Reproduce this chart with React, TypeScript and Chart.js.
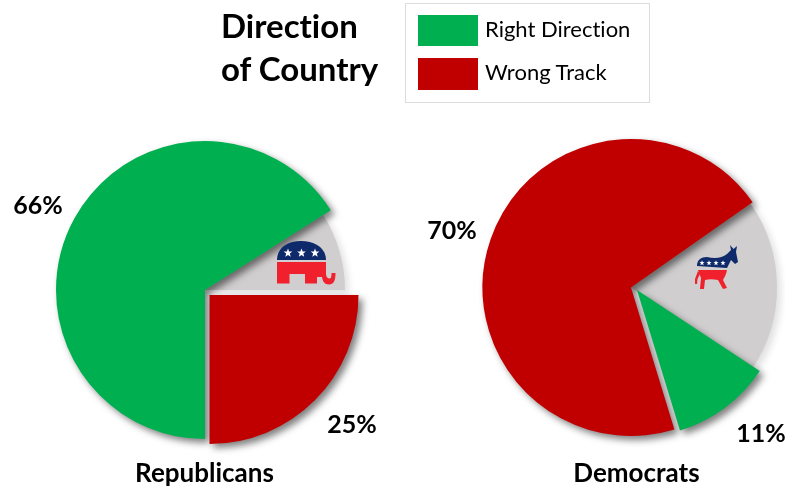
import React, { useEffect, useRef } from "react";
import { Chart, registerables } from "chart.js";

Chart.register(...registerables);

const WIDTH = 785;
const HEIGHT = 486;
const FONT = "Lato, 'Open Sans', sans-serif";

const GREEN = "#00B050";
const RED = "#C00000";
const GRAY = "#D0CECE";

// Slices run clockwise from each pie's starting angle.
const republicanCategories = ["Right Direction", "Other", "Wrong Track"];
const republicanValues = [66, 9, 25];
const republicanColors = [GREEN, GRAY, RED];
const republicanRadii = [149, 140, 149];
const republicanShifts = [[0, 0], [0, 0], [4.5, 5]];
const republicanPaintOrder = [1, 0, 2];
const republicanLabelAt = [[38, 206], null, [352, 425]];

const democratCategories = ["Right Direction", "Wrong Track", "Other"];
const democratValues = [11, 70, 19];
const democratColors = [GREEN, RED, GRAY];
const democratRadii = [147, 148.5, 146];
const democratShifts = [[6, 2.5], [0, 0], [0, 0]];
const democratPaintOrder = [2, 1, 0];
const democratLabelAt = [[761, 434], [452, 231], null];

type PieProps = {
  categories: string[];
  values: number[];
  colors: string[];
  radii: number[];
  shifts: number[][];
  paintOrder: number[];
  labelAt: (number[] | null)[];
  rotation: number;
  padding: { left: number; right: number; top: number; bottom: number };
};

// Gives each slice its own radius and pull-out, paints the slices in a chosen
// order with a soft drop shadow, and writes the percentages beside the pie.
const pieStyling = (p: PieProps) => ({
  id: "pieStyling",
  afterDatasetsUpdate(chart: Chart) {
    const arcs = chart.getDatasetMeta(0).data as any[];
    arcs.forEach((arc, i) => {
      arc.outerRadius = p.radii[i];
      arc.x += p.shifts[i][0];
      arc.y += p.shifts[i][1];
    });
  },
  beforeDatasetDraw(chart: Chart) {
    const ctx = chart.ctx;
    const arcs = chart.getDatasetMeta(0).data as any[];
    ctx.save();
    ctx.shadowBlur = 7;
    ctx.shadowOffsetX = 4;
    ctx.shadowOffsetY = 4;
    p.paintOrder.forEach((i) => {
      ctx.shadowColor = p.colors[i] === GRAY ? "rgba(0,0,0,0.12)" : "rgba(0,0,0,0.5)";
      arcs[i].draw(ctx, chart.chartArea);
    });
    ctx.restore();
    return false;
  },
  afterDraw(chart: Chart) {
    const ctx = chart.ctx;
    ctx.save();
    ctx.font = `bold 25px ${FONT}`;
    ctx.fillStyle = "#000";
    ctx.textAlign = "center";
    ctx.textBaseline = "middle";
    p.labelAt.forEach((pos, i) => {
      if (pos) ctx.fillText(`${p.values[i]}%`, pos[0], pos[1]);
    });
    ctx.restore();
  },
});

function Pie(props: PieProps) {
  const ref = useRef<HTMLCanvasElement>(null);
  useEffect(() => {
    const chart = new Chart(ref.current!, {
      type: "pie",
      data: {
        labels: props.categories,
        datasets: [
          {
            data: props.values,
            backgroundColor: props.colors,
            borderWidth: 0,
          },
        ],
      },
      options: {
        responsive: false,
        animation: false,
        rotation: props.rotation,
        layout: { padding: props.padding },
        plugins: {
          legend: { display: false },
          tooltip: { enabled: false },
          title: { display: false },
        },
      },
      plugins: [pieStyling(props)],
    } as any);
    return () => chart.destroy();
  }, []);
  return (
    <canvas
      ref={ref}
      width={WIDTH}
      height={HEIGHT}
      style={{ position: "absolute", left: 0, top: 0, width: WIDTH, height: HEIGHT }}
    />
  );
}

const textAt = (
  left: number,
  top: number,
  size: number,
  weight: number,
  extra: React.CSSProperties = {}
): React.CSSProperties => ({
  position: "absolute",
  left,
  top,
  fontFamily: FONT,
  fontSize: size,
  fontWeight: weight,
  fontVariantLigatures: "none",
  lineHeight: 1,
  color: "#000",
  whiteSpace: "nowrap",
  ...extra,
});

function Star({ x, y, r }: { x: number; y: number; r: number }) {
  const pts: string[] = [];
  for (let i = 0; i < 10; i++) {
    const a = -Math.PI / 2 + (i * Math.PI) / 5;
    const d = i % 2 === 0 ? r : r * 0.42;
    pts.push(`${x + d * Math.cos(a)},${y + d * Math.sin(a)}`);
  }
  return <polygon points={pts.join(" ")} fill="#fff" />;
}

// Party emblems drawn on top of the gray slices.
function Emblems() {
  return (
    <svg
      width={WIDTH}
      height={HEIGHT}
      style={{ position: "absolute", left: 0, top: 0, pointerEvents: "none" }}
    >
      <g transform="translate(277,241)">
        <path d="M0 19 C0 7 10 0 24 0 C38 0 49 7 49 19 Z" fill="#0F2A6B" />
        <Star x={11} y={12} r={4.6} />
        <Star x={24.5} y={12} r={4.6} />
        <Star x={38} y={12} r={4.6} />
        <path
          d="M0 21 H49 V33 C49 36 51 37.5 52.5 37.5 C54 37.5 54.5 36 54.5 32 H58.5 C58.5 40 56.5 43.5 52 43.5 C47.5 43.5 45.5 40 45 36 H40 V42.5 H28 V33 H12.5 V42.5 H0 Z"
          fill="#F0202C"
        />
      </g>
      <g>
        <path
          d="M697 266 C697 260 701 257 707 257 C715 259 722 258 727 254 L731 250 L730 245 L733.5 249 L737 246 L736 252 L738 262 L735 264 L731 260 L727 268 Z"
          fill="#0F2A6B"
        />
        <Star x={702} y={263} r={2.7} />
        <Star x={709} y={263} r={2.7} />
        <Star x={716} y={263} r={2.7} />
        <Star x={723} y={263} r={2.7} />
        <path
          d="M698 270 H727 C726 275 724 278 723 280 L727 288 L723 289 L718 280 C713 279 709 279 705 280 L704 289 H700 L701 278 Z"
          fill="#F0202C"
        />
        <path d="M698 271 L695 279 L695 284 L697 284 L697.5 279 L700 274 Z" fill="#F0202C" />
      </g>
    </svg>
  );
}

export default function App() {
  return (
    <div
      style={{
        position: "absolute",
        left: 0,
        top: 0,
        width: WIDTH,
        height: HEIGHT,
        overflow: "hidden",
        background: "#fff",
      }}
    >
      <Pie
        categories={republicanCategories}
        values={republicanValues}
        colors={republicanColors}
        radii={republicanRadii}
        shifts={republicanShifts}
        paintOrder={republicanPaintOrder}
        labelAt={republicanLabelAt}
        rotation={180}
        padding={{ left: 0, right: 375, top: 94, bottom: 0 }}
      />
      <Pie
        categories={democratCategories}
        values={democratValues}
        colors={democratColors}
        radii={democratRadii}
        shifts={democratShifts}
        paintOrder={democratPaintOrder}
        labelAt={democratLabelAt}
        rotation={123.4}
        padding={{ left: 477, right: 0, top: 89, bottom: 0 }}
      />
      <Emblems />

      <div style={textAt(221, 9, 33, 700)}>Direction</div>
      <div style={textAt(221, 52, 33, 700)}>of Country</div>

      <div
        style={{
          position: "absolute",
          left: 405,
          top: 3,
          width: 243,
          height: 98,
          border: "1px solid #dcdcdc",
          background: "#fff",
        }}
      />
      <div style={{ position: "absolute", left: 418, top: 15, width: 60, height: 31, background: GREEN }} />
      <div style={{ position: "absolute", left: 418, top: 58, width: 60, height: 32, background: RED }} />
      <div style={textAt(485, 18, 22, 400)}>Right Direction</div>
      <div style={textAt(485, 61, 22, 400)}>Wrong Track</div>

      <div style={textAt(204.5, 459, 26, 700, { transform: "translateX(-50%)" })}>Republicans</div>
      <div style={textAt(636.5, 459, 26, 700, { transform: "translateX(-50%)" })}>Democrats</div>
    </div>
  );
}
